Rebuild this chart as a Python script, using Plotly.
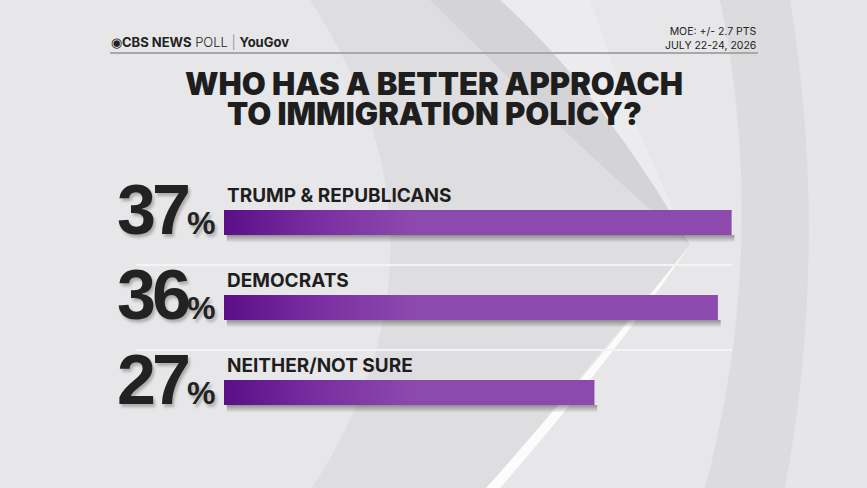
import plotly.graph_objects as go

# poll data
categories = ['TRUMP & REPUBLICANS', 'DEMOCRATS', 'NEITHER/NOT SURE']
values = [37, 36, 27]

title_lines = ['WHO HAS A BETTER APPROACH', 'TO IMMIGRATION POLICY?']
source_text = ("◉<b>CBS NEWS</b> <span style='font-weight:300'>POLL</span> "
               "<span style='color:#9a9a9a'>|</span> <b>YouGov</b>")
moe_text = 'MOE: +/- 2.7 PTS<br>JULY 22-24, 2026'

W, H = 867, 488
X0_PX = 224          # pixel where 0% sits
PX_PER_UNIT = 13.72  # pixels per percentage point
ROW_PX = 85          # row pitch in pixels
ROW0_PX = 222.5      # centre of first bar in pixels
HALF = 12.5 / ROW_PX  # half bar thickness in row units


def px(x):
    return x / W


def py(y):
    return 1 - y / H


def build():
    fig = go.Figure()

    # bar shadows + gradient bars
    for i, v in enumerate(values):
        fig.add_trace(go.Scatter(
            x=[0.2, v + 0.2, v + 0.2, 0.2, 0.2],
            y=[i + HALF, i + HALF, i + HALF + 0.09, i + HALF + 0.09, i + HALF],
            mode='lines', line=dict(width=0), fill='toself',
            fillgradient=dict(type='vertical',
                              colorscale=[[0, 'rgba(40,40,40,0.45)'], [1, 'rgba(40,40,40,0)']],
                              start=i + HALF, stop=i + HALF + 0.09),
            hoverinfo='skip', showlegend=False))
        fig.add_trace(go.Scatter(
            x=[0, v, v, 0, 0],
            y=[i - HALF, i - HALF, i + HALF, i + HALF, i - HALF],
            mode='lines', line=dict(width=0), fill='toself',
            fillgradient=dict(type='horizontal',
                              colorscale=[[0, '#5a0f87'], [0.5, '#7a2fa1'], [1, '#8d4aae']],
                              start=0, stop=14),
            name=categories[i], hoverinfo='x+name', showlegend=False))

    annotations = []
    for i, (cat, v) in enumerate(zip(categories, values)):
        annotations.append(dict(
            x=0, y=i, xref='x', yref='y', xanchor='left', yanchor='middle',
            yshift=27, xshift=1, showarrow=False, text=f'<b>{cat}</b>',
            font=dict(family='Inter', size=19, color='#1e1e1e')))
        annotations.append(dict(
            x=0, y=i, xref='x', yref='y', xanchor='right', yanchor='middle',
            xshift=-7, yshift=13, showarrow=False,
            text=(f"<span style='letter-spacing:-4px'>{v}</span>"
                  f"<span style='font-size:32px;letter-spacing:0px'>%</span>"),
            font=dict(family='Liberation Sans', size=70, color='#222222', weight=700,
                      shadow='2px 3px 3px rgba(0,0,0,0.25)')))

    for k, line in enumerate(title_lines):
        annotations.append(dict(
            x=px(434), y=py(83 + 30 * k), xref='paper', yref='paper',
            xanchor='center', yanchor='middle', showarrow=False, text=line,
            font=dict(family='Inter', size=31, color='#1e1e1e', weight=900)))

    annotations.append(dict(
        x=px(109), y=py(42), xref='paper', yref='paper', xanchor='left', yanchor='middle',
        showarrow=False, text=source_text,
        font=dict(family='Inter', size=13, color='#222222')))
    annotations.append(dict(
        x=px(759), y=py(38), xref='paper', yref='paper', xanchor='right', yanchor='middle',
        showarrow=False, text=moe_text, align='right',
        font=dict(family='Inter', size=10.5, color='#222222')))

    shapes = [
        # background swoosh shapes
        dict(type='path', xref='paper', yref='paper', layer='below', line=dict(width=0),
             fillcolor='rgba(205,205,208,0.35)',
             path=f'M {px(310)},{py(0)} Q {px(470)},{py(244)} {px(312)},{py(488)} '
                  f'L {px(488)},{py(488)} L {px(690)},{py(245)} '
                  f'Q {px(600)},{py(90)} {px(500)},{py(0)} Z'),
        dict(type='path', xref='paper', yref='paper', layer='below', line=dict(width=0),
             fillcolor='rgba(190,190,194,0.3)',
             path=f'M {px(430)},{py(0)} Q {px(570)},{py(140)} {px(690)},{py(245)} '
                  f'Q {px(600)},{py(90)} {px(500)},{py(0)} Z'),
        dict(type='path', xref='paper', yref='paper', layer='below', line=dict(width=0),
             fillcolor='rgba(245,245,246,0.4)',
             path=f'M {px(500)},{py(0)} Q {px(600)},{py(90)} {px(690)},{py(245)} '
                  f'Q {px(630)},{py(120)} {px(590)},{py(0)} Z'),
        # soft white crescent below the tip
        dict(type='path', xref='paper', yref='paper', layer='below', line=dict(width=0),
             fillcolor='rgba(255,255,255,0.85)',
             path=f'M {px(690)},{py(245)} Q {px(600)},{py(360)} {px(486)},{py(488)} '
                  f'L {px(500)},{py(488)} Q {px(610)},{py(362)} {px(690)},{py(245)} Z'),
        # right outer arc region
        dict(type='path', xref='paper', yref='paper', layer='below', line=dict(width=0),
             fillcolor='rgba(200,200,203,0.35)',
             path=f'M {px(720)},{py(0)} Q {px(770)},{py(244)} {px(705)},{py(488)} '
                  f'L {px(867)},{py(488)} L {px(867)},{py(0)} Z'),
        dict(type='path', xref='paper', yref='paper', layer='below', line=dict(width=0),
             fillcolor='rgba(236,236,238,0.6)',
             path=f'M {px(790)},{py(0)} Q {px(830)},{py(244)} {px(785)},{py(488)} '
                  f'L {px(867)},{py(488)} L {px(867)},{py(0)} Z'),
        # header rule
        dict(type='line', xref='paper', yref='paper', x0=px(110), x1=px(758),
             y0=py(53), y1=py(53), line=dict(color='#a8a8a8', width=2)),
    ]
    # row separators
    for i in range(len(values) - 1):
        shapes.append(dict(type='line', xref='paper', yref='y', x0=px(136), x1=px(732),
                           y0=i + 0.5, y1=i + 0.5, line=dict(color='#f4f4f4', width=2)))

    fig.update_layout(
        width=W, height=H,
        margin=dict(l=0, r=0, t=0, b=0),
        paper_bgcolor='#e7e7e9', plot_bgcolor='rgba(0,0,0,0)',
        xaxis=dict(range=[-X0_PX / PX_PER_UNIT, (W - X0_PX) / PX_PER_UNIT],
                   visible=False, fixedrange=True),
        yaxis=dict(range=[(H - ROW0_PX) / ROW_PX, -ROW0_PX / ROW_PX],
                   visible=False, fixedrange=True),
        annotations=annotations,
        shapes=shapes,
        showlegend=False,
    )
    fig.write_html('out.html', config={'displayModeBar': False},
                   post_script="document.body.style.margin='0';")


if __name__ == '__main__':
    build()
